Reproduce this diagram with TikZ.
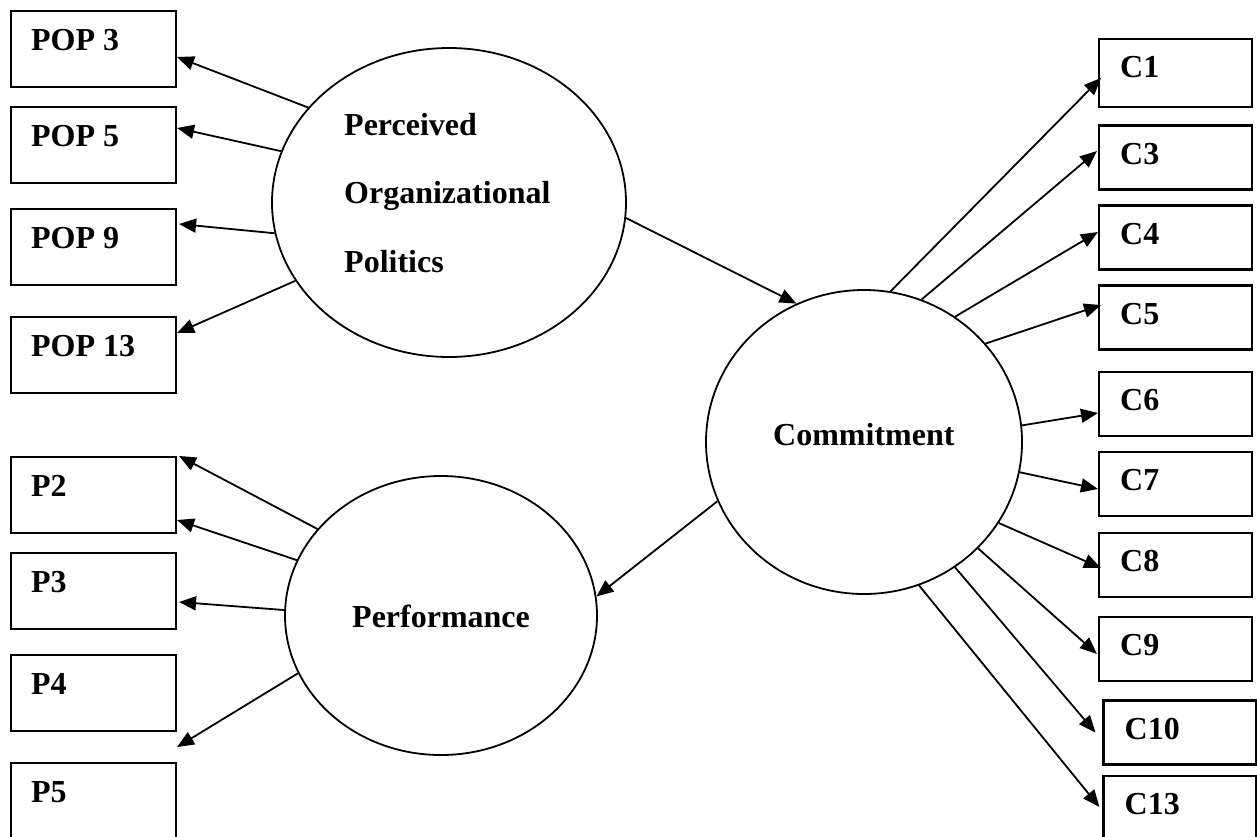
\documentclass[tikz,border=0pt]{standalone}
\usepackage{fontspec}
\setmainfont{Liberation Serif}
\usetikzlibrary{arrows.meta,calc,shapes.geometric}

\begin{document}
\begin{tikzpicture}[x=1pt,y=-1pt,
  lbox/.style={draw,line width=2.1pt,rectangle,minimum width=165pt,minimum height=76pt,inner sep=0pt},
  rbox/.style={draw,line width=2.1pt,rectangle,minimum width=153pt,minimum height=64pt,inner sep=0pt},
  latent/.style={draw,line width=1.8pt,ellipse,inner sep=0pt},
  lbl/.style={font=\bfseries\fontsize{32}{38}\selectfont,inner sep=0pt,anchor=base west},
  link/.style={line width=1.8pt,-{Triangle[length=17pt,width=14pt]}}]

\clip (0,0) rectangle (1257,836);

% indicator boxes, left column
\node[lbox] (pop3)  at (93.5,49)  {};
\node[lbox] (pop5)  at (93.5,145) {};
\node[lbox] (pop9)  at (93.5,247) {};
\node[lbox] (pop13) at (93.5,355) {};
\node[lbox] (p2) at (93.5,495) {};
\node[lbox] (p3) at (93.5,591) {};
\node[lbox] (p4) at (93.5,693) {};
\node[lbox] (p5) at (93.5,801) {};

\node[lbl] (pop3-t)  at ($(pop3.north west)+(21,41)$)  {POP 3};
\node[lbl] (pop5-t)  at ($(pop5.north west)+(21,41)$)  {POP 5};
\node[lbl] (pop9-t)  at ($(pop9.north west)+(21,41)$)  {POP 9};
\node[lbl] (pop13-t) at ($(pop13.north west)+(21,41)$) {POP 13};
\node[lbl] (p2-t) at ($(p2.north west)+(21,41)$) {P2};
\node[lbl] (p3-t) at ($(p3.north west)+(21,41)$) {P3};
\node[lbl] (p4-t) at ($(p4.north west)+(21,41)$) {P4};
\node[lbl] (p5-t) at ($(p5.north west)+(21,41)$) {P5};

% indicator boxes, right column
\node[rbox,minimum height=68pt] (c1) at (1175.5,73) {};
\node[rbox] (c3)  at (1175.5,157.5) {};
\node[rbox] (c4)  at (1175.5,237.5) {};
\node[rbox] (c5)  at (1175.5,317.5) {};
\node[rbox] (c6)  at (1175.5,404)   {};
\node[rbox] (c7)  at (1175.5,484)   {};
\node[rbox] (c8)  at (1175.5,565)   {};
\node[rbox] (c9)  at (1175.5,649)   {};
\node[rbox] (c10) at (1180,732.5)   {};
\node[rbox] (c13) at (1180,808)     {};

\node[lbl] (c1-t)  at ($(c1.north west)+(22,40)$)  {C1};
\node[lbl] (c3-t)  at ($(c3.north west)+(22,40)$)  {C3};
\node[lbl] (c4-t)  at ($(c4.north west)+(22,40)$)  {C4};
\node[lbl] (c5-t)  at ($(c5.north west)+(22,40)$)  {C5};
\node[lbl] (c6-t)  at ($(c6.north west)+(22,40)$)  {C6};
\node[lbl] (c7-t)  at ($(c7.north west)+(22,40)$)  {C7};
\node[lbl] (c8-t)  at ($(c8.north west)+(22,40)$)  {C8};
\node[lbl] (c9-t)  at ($(c9.north west)+(22,40)$)  {C9};
\node[lbl] (c10-t) at ($(c10.north west)+(22,40)$) {C10};
\node[lbl] (c13-t) at ($(c13.north west)+(22,40)$) {C13};

% latent constructs
\node[latent,minimum width=354pt,minimum height=309pt] (pop)  at (449,202.5) {};
\node[latent,minimum width=312pt,minimum height=279pt] (perf) at (441,615.5) {};
\node[latent,minimum width=316pt,minimum height=304pt] (com)  at (864,442)   {};

\node[lbl] (pop-t1) at (344,135) {Perceived};
\node[lbl] (pop-t2) at (344,203) {Organizational};
\node[lbl] (pop-t3) at (344,272) {Politics};
\node[lbl] (com-t)  at (773,445) {Commitment};
\node[lbl] (perf-t) at (352,627) {Performance};

% structural paths
\draw[link] (pop.-5) -- (com.116.2);
\draw[link] (com.202.2) -- (perf.7.6);

% loadings
\draw[link] (pop.146.7) -- ($(pop3.east)+(0,8)$);
\draw[link] (pop.163.5) -- ($(pop5.east)+(0,-17)$);
\draw[link] (pop.190.1) -- ($(pop9.east)+(2,-23)$);
\draw[link] (pop.207.3) -- ($(pop13.east)+(0,-22)$);

\draw[link] (perf.145.2) -- ($(p2.north east)+(2,0)$);
\draw[link] (perf.159.3) -- ($(p2.east)+(0,25)$);
\draw[link] (perf.178.7) -- ($(p3.east)+(2,11)$);
\draw[link] (perf.202.2) -- ($(p4.south east)+(0,15)$);

\draw[link] (com.80.1)  -- ($(c1.west)+(3,5)$);
\draw[link] (com.68.6)  -- ($(c3.west)+(-1,-6.5)$);
\draw[link] (com.54.0)  -- ($(c4.west)+(0,-5.5)$);
\draw[link] (com.39.3)  -- ($(c5.west)+(3,-12.5)$);
\draw[link] (com.6.8)   -- ($(c6.west)+(0,9)$);
\draw[link] (com.-11.1) -- ($(c7.west)+(0,5)$);
\draw[link] (com.-31.7) -- ($(c8.west)+(3,3)$);
\draw[link] (com.-43.0) -- ($(c9.west)+(-1,5)$);
\draw[link] (com.-54.4) -- ($(c10.west)+(-7,0)$);
\draw[link] (com.-69.4) -- ($(c13.west)+(-3,-1)$);

\end{tikzpicture}
\end{document}
